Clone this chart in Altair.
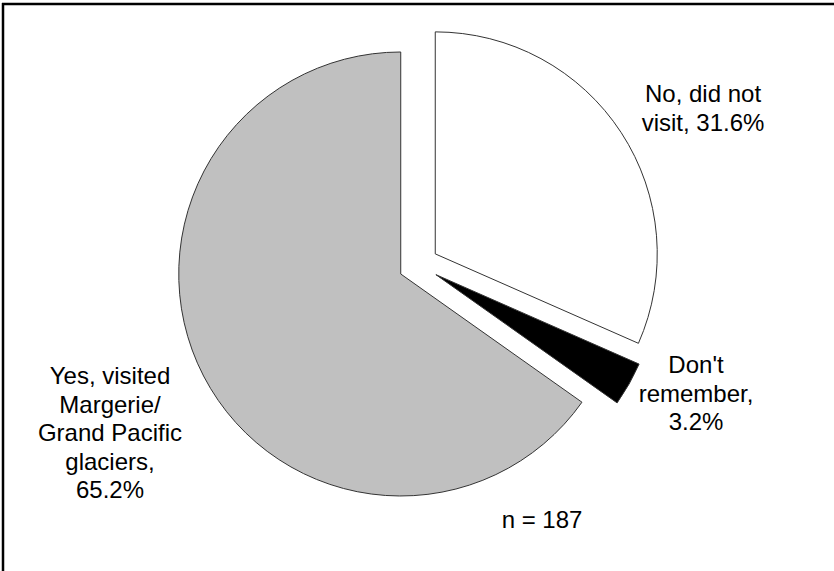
import altair as alt
import pandas as pd

# ---- data ----
categories = ["No, did not visit", "Don't remember", "Yes, visited Margerie/Grand Pacific glaciers"]
shares = [31.6, 3.2, 65.2]
labels = ["No, did not\nvisit, 31.6%", "Don't\nremember,\n3.2%",
          "Yes, visited\nMargerie/\nGrand Pacific\nglaciers,\n65.2%"]
fills = ["#ffffff", "#000000", "#c0c0c0"]
note = "n = 187"

# ---- layout / style constants ----
W, H = 834, 571
CX, CY = 418.5, 264.8      # pie centre
R = 222                    # pie radius
EXPLODE = 20               # explode distance of every slice
LABEL_R = 302              # label anchor radius
label_nudge = {categories[0]: (31.6, 2.5), categories[1]: (14.7, -40.3), categories[2]: (-40.3, -19.3)}
FONT = "Liberation Sans"
FS = 24
LH = 28.5

df = pd.DataFrame({"cat": categories, "value": shares, "label": labels, "idx": list(range(len(categories)))})

base = alt.Chart(df).transform_window(
    cum="sum(value)", sort=[alt.SortField("idx")], frame=[None, 0]
).transform_joinaggregate(total="sum(value)").transform_calculate(
    t1="datum.cum / datum.total * 2 * PI",
    t0="(datum.cum - datum.value) / datum.total * 2 * PI",
).transform_calculate(
    mid="(datum.t0 + datum.t1) / 2"
).transform_calculate(
    px=f"{CX} + {EXPLODE} * sin(datum.mid)",
    py=f"{CY} - {EXPLODE} * cos(datum.mid)",
    lx=f"{CX} + {LABEL_R} * sin(datum.mid)",
    ly=f"{CY} - {LABEL_R} * cos(datum.mid)",
)

arcs = base.mark_arc(outerRadius=R, stroke="#333333", strokeWidth=1).encode(
    x=alt.X("px:Q", scale=None, axis=None),
    y=alt.Y("py:Q", scale=None, axis=None),
    theta=alt.Theta("t0:Q", scale=None),
    theta2="t1:Q",
    color=alt.Color("cat:N", scale=alt.Scale(domain=categories, range=fills), legend=None),
)

text_layers = []
for c in categories:
    dx, dy = label_nudge[c]
    t = base.transform_filter(alt.datum.cat == c).mark_text(
        align="center", baseline="alphabetic", font=FONT, fontSize=FS,
        lineHeight=LH, lineBreak="\n", color="#000000", dx=dx, dy=dy,
    ).encode(
        x=alt.X("lx:Q", scale=None, axis=None),
        y=alt.Y("ly:Q", scale=None, axis=None),
        text="label:N",
    )
    text_layers.append(t)

note_text = alt.Chart(pd.DataFrame({"t": [note]})).mark_text(
    align="center", baseline="alphabetic", font=FONT, fontSize=FS, color="#000000"
).encode(x=alt.value(542), y=alt.value(528), text="t:N")

frame_top = alt.Chart(pd.DataFrame({"a": [0]})).mark_rule(color="#000000", strokeWidth=2.5).encode(
    x=alt.value(2), x2=alt.value(W), y=alt.value(4)
)
frame_left = alt.Chart(pd.DataFrame({"a": [0]})).mark_rule(color="#000000", strokeWidth=2.5).encode(
    x=alt.value(3), y=alt.value(3), y2=alt.value(H)
)

chart = alt.layer(arcs, *text_layers, note_text, frame_top, frame_left).properties(
    width=W, height=H, padding=0, autosize=alt.AutoSizeParams(type="none"), background="#ffffff"
).configure_view(stroke=None)

chart.save("out.html", embed_options={"renderer": "svg", "actions": False})
